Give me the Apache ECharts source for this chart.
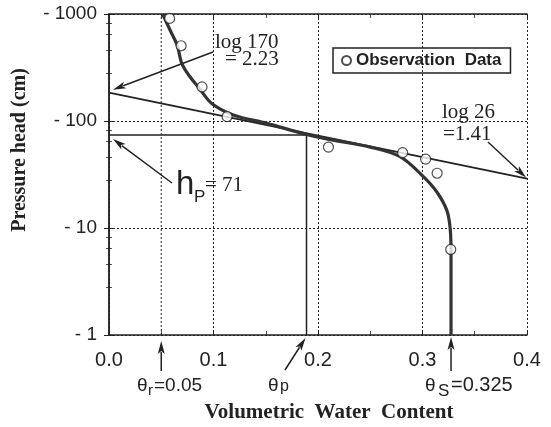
<!DOCTYPE html>
<html>
<head>
<meta charset="utf-8">
<script src="https://cdn.jsdelivr.net/npm/echarts@6/dist/echarts.min.js"></script>
<style>html,body{margin:0;padding:0;background:#fff}#c{width:551px;height:427px}</style>
</head>
<body>
<div id="c"></div>
<script>
// ---- data ----
const obsTheta = [0.058, 0.069, 0.089, 0.113, 0.210, 0.281, 0.303, 0.314, 0.327];
const obsH     = [910, 505, 208, 110, 57, 50.6, 44, 32.5, 6.3];

const curveTheta = [0.0513, 0.0584, 0.0654, 0.0696, 0.0775, 0.0864, 0.0983, 0.119, 0.151, 0.189, 0.2115, 0.25, 0.2785, 0.3008, 0.3136, 0.3232, 0.3263, 0.3273, 0.3273];
const curveH     = [1000, 708, 506, 346, 259, 202, 146, 114, 95, 75, 67, 57, 46.4, 30.2, 21.8, 14.7, 10.3, 6.2, 1];

const tangentTheta = [0, 0.4];
const tangentH     = [184, 29];

const thetaR = 0.05, thetaP = 0.189, thetaS = 0.3273, hP = 74;

const xTicks = [0, 0.1, 0.2, 0.3, 0.4];
const yTicks = [1, 10, 100, 1000];

const SANS = '"Liberation Sans", Arial, sans-serif';
const SERIF = '"Liberation Serif", "Times New Roman", serif';
const INK = '#222';

const zip = (a, b) => a.map((v, i) => [v, b[i]]);

const chart = echarts.init(document.getElementById('c'), null, {renderer: 'canvas'});

const axisCommon = {
  axisLine: {show: true, lineStyle: {color: INK, width: 1.5}},
  axisTick: {show: true, inside: true, length: 5, lineStyle: {color: INK, width: 1}},
};
const xMinor = {minorTick: {show: true, splitNumber: 2, length: 4, lineStyle: {color: INK, width: 0.8}}};
const yMinor = {minorTick: {show: true, splitNumber: 5, length: 3, lineStyle: {color: INK, width: 0.8}}};

chart.setOption({
  animation: false,
  backgroundColor: '#fff',
  grid: {left: 109, right: 24, top: 14, bottom: 92, containLabel: false},
  legend: {
    left: 333, top: 48,
    data: [{name: 'Observation  Data', icon: 'circle'}],
    borderColor: INK, borderWidth: 1.5, padding: [4, 9, 4, 8],
    itemWidth: 9, itemHeight: 9,
    textStyle: {fontFamily: SANS, fontWeight: 'bold', fontSize: 17, color: INK},
  },
  xAxis: [
    Object.assign({
      type: 'value', min: 0, max: 0.4, interval: 0.1, position: 'bottom',
      axisLabel: {formatter: v => v.toFixed(1), fontFamily: SANS, fontSize: 20, color: INK, margin: 15},
      splitLine: {show: true, lineStyle: {color: INK, type: [2, 2], width: 1}},
    }, axisCommon, xMinor),
    Object.assign({
      type: 'value', min: 0, max: 0.4, interval: 0.1, position: 'top',
      axisLabel: {show: false}, splitLine: {show: false},
    }, axisCommon, xMinor),
  ],
  yAxis: [
    Object.assign({
      type: 'log', logBase: 10, min: yTicks[0], max: yTicks[yTicks.length - 1], position: 'left',
      axisLabel: {formatter: v => '- ' + v, fontFamily: SANS, fontSize: 19, color: INK, margin: 12,
        padding: [4, 0, 0, 0]},
      splitLine: {show: true, lineStyle: {color: INK, type: [2, 2], width: 1}},
    }, axisCommon, yMinor),
    Object.assign({
      type: 'log', logBase: 10, min: yTicks[0], max: yTicks[yTicks.length - 1], position: 'right',
      axisLabel: {show: false}, splitLine: {show: false},
    }, axisCommon, yMinor),
  ],
  series: [
    {
      name: 'thetaR', type: 'line', data: [[thetaR, yTicks[0]], [thetaR, yTicks[yTicks.length - 1]]],
      symbol: 'none', silent: true, lineStyle: {color: INK, width: 1, type: [2, 2]}, z: 1,
    },
    {
      name: 'thetaP', type: 'line', data: [[0, hP], [thetaP, hP], [thetaP, yTicks[0]]],
      symbol: 'none', silent: true, lineStyle: {color: INK, width: 1.5}, z: 2,
    },
    {
      name: 'tangent', type: 'line', data: zip(tangentTheta, tangentH),
      symbol: 'none', silent: true, lineStyle: {color: INK, width: 1.8}, z: 3,
    },
    {
      name: 'fit', type: 'line', data: zip(curveTheta, curveH), smooth: 0.35,
      symbol: 'none', silent: true, lineStyle: {color: '#333', width: 3.2}, z: 4,
    },
    {
      name: 'Observation  Data', type: 'scatter', data: zip(obsTheta, obsH),
      symbol: 'circle', symbolSize: 10,
      itemStyle: {color: '#fff', borderColor: INK, borderWidth: 1.2}, z: 5,
    },
  ],
});

// ---- annotations ----
function px(pt) { return chart.convertToPixel({gridIndex: 0}, pt); }
function arrow(tail, tip) {
  const dx = tip[0] - tail[0], dy = tip[1] - tail[1];
  const L = Math.hypot(dx, dy), ux = dx / L, uy = dy / L;
  const hl = 13, hw = 3.5;
  const bx = tip[0] - ux * hl, by = tip[1] - uy * hl;
  return [
    {type: 'line', shape: {x1: tail[0], y1: tail[1], x2: bx + ux * 2, y2: by + uy * 2}, style: {stroke: INK, lineWidth: 1.5}, silent: true},
    {type: 'polygon', shape: {points: [[tip[0], tip[1]], [bx - uy * hw, by + ux * hw], [bx + ux * 3, by + uy * 3], [bx + uy * hw, by - ux * hw]]}, style: {fill: INK}, silent: true},
  ];
}
// text placed by its baseline
function txt(x, baseline, text, font, size, opts) {
  return {type: 'text', x: x, y: baseline - 0.34 * size, silent: true,
    style: Object.assign({text: text, fontFamily: font, fontSize: size, fill: INK, align: 'left', verticalAlign: 'middle'}, opts || {})};
}

const tip170 = px([0, tangentH[0]]);
const tip26 = px([0.4, tangentH[1]]);
const tipHp = px([0, hP]);
const tipR = px([thetaR, yTicks[0]]);
const tipP = px([thetaP, yTicks[0]]);
const tipS = px([thetaS, yTicks[0]]);

let g = [];
g = g.concat(arrow([213, 52], [tip170[0] + 4, tip170[1] - 3]));
g = g.concat(arrow([488, 142], [tip26[0] - 1, tip26[1] - 1]));
g = g.concat(arrow([172, 183], [tipHp[0] + 4, tipHp[1] + 4]));
g = g.concat(arrow([tipR[0], 371], [tipR[0], tipR[1] + 6]));
g = g.concat(arrow([285, 370], [tipP[0] - 1, tipP[1] + 3]));
g = g.concat(arrow([tipS[0], 371], [tipS[0], tipS[1] + 2]));

g.push(txt(215, 50, 'log 170', SERIF, 21));
g.push(txt(225, 67, '= 2.23', SERIF, 21));
g.push(txt(442, 120, 'log 26', SERIF, 21));
g.push(txt(443, 142, '=1.41', SERIF, 21));
g.push(txt(176, 196, 'h', SANS, 33));
g.push(txt(194, 203, 'P', SANS, 17));
g.push(txt(205, 193, '= 71', SERIF, 21));

g.push(txt(137, 392, 'θ', SANS, 19));
g.push(txt(148, 396, 'r', SANS, 15));
g.push(txt(154, 392, '=0.05', SANS, 19));
g.push(txt(268, 392, 'θ', SANS, 19));
g.push(txt(280, 392, 'p', SANS, 16));
g.push(txt(425, 392, 'θ', SANS, 19));
g.push(txt(438, 397, 'S', SANS, 17));
g.push(txt(451, 392, '=0.325', SANS, 20));

g.push(txt(329, 420, 'Volumetric  Water  Content', SERIF, 21, {fontWeight: 'bold', align: 'center'}));
g.push({type: 'text', x: 20, y: 150, rotation: Math.PI / 2, silent: true,
  style: {text: 'Pressure head (cm)', fontFamily: SERIF, fontSize: 20, fontWeight: 'bold', fill: INK, align: 'center', verticalAlign: 'middle'}});

chart.setOption({graphic: g});
</script>
</body>
</html>
